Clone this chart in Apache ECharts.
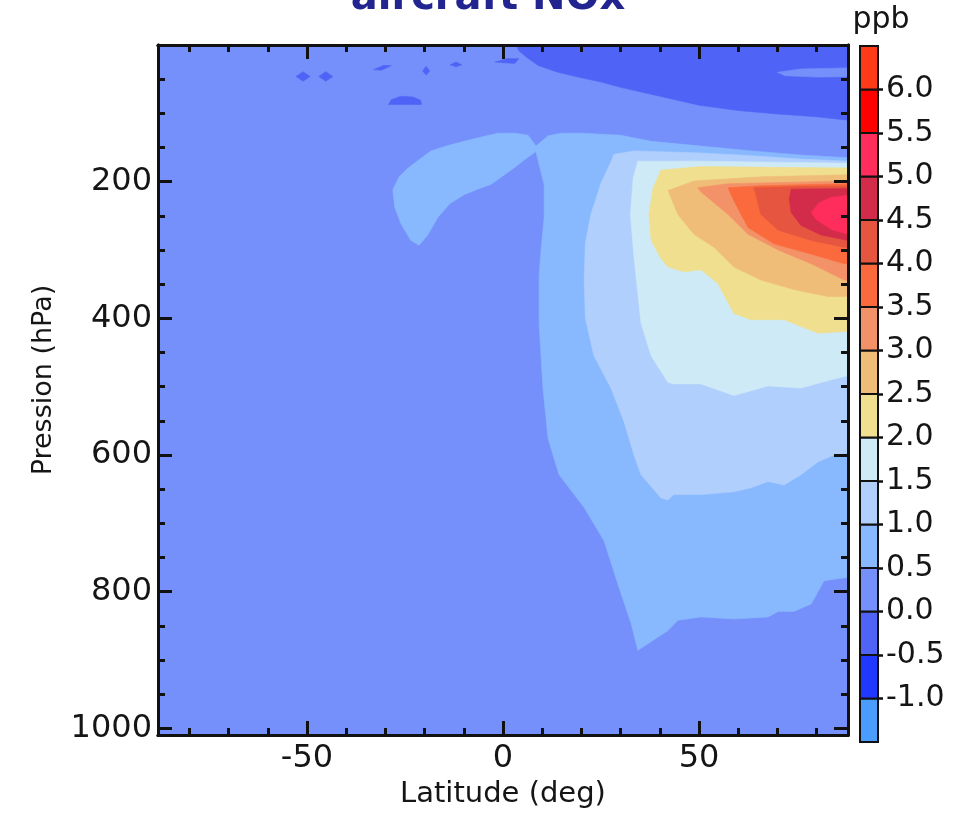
<!DOCTYPE html>
<html><head><meta charset="utf-8">
<script src="https://cdn.jsdelivr.net/npm/echarts@6/dist/echarts.min.js"></script>
<style>html,body{margin:0;padding:0;background:#fff}#c{width:967px;height:814px}</style>
</head><body><div id="c"></div>
<script>
const FONT = 'DejaVu Sans';
// axis ticks
const latMajor = [-50, 0, 50];
const latMinor = [-80, -70, -60, -40, -30, -20, -10, 10, 20, 30, 40, 60, 70, 80];
const presMajor = [200, 400, 600, 800, 1000];
const presMinor = [50, 100, 150, 250, 300, 350, 450, 500, 550, 650, 700, 750, 850, 900, 950];
// colour bar
const cbEdges = [-1.5, -1.0, -0.5, 0.0, 0.5, 1.0, 1.5, 2.0, 2.5, 3.0, 3.5, 4.0, 4.5, 5.0, 5.5, 6.0, 6.5];
const cbTicks = [-1.0, -0.5, 0.0, 0.5, 1.0, 1.5, 2.0, 2.5, 3.0, 3.5, 4.0, 4.5, 5.0, 5.5, 6.0];
const bandColors = ['#4a9cff', '#2038ff', '#4f64f6', '#7590fa', '#88b8fe', '#b0cffd', '#cfeaf7',
  '#efdf8e', '#f0bd78', '#f39268', '#fa6a3c', '#e6553f', '#d32c4a', '#ff2d5c', '#ff0000', '#ff3a18'];

// contour regions: [latitude, pressure] boundary points, drawn in order
const regionBg = [[-92, -10], [92, -10], [92, 1020], [-92, 1020]];
const regionDarkTop = [[3, -5], [92, -5], [92, 110], [88, 110], [80, 105], [70, 101], [60, 96], [50, 88], [40, 75], [30, 62], [25, 54], [20, 48], [14, 40], [9, 30], [6, 18], [4, 8]];
const regionTopLight = [[70, 40], [76, 35], [92, 33], [92, 46], [80, 47], [72, 45]];
const patchA = [[-52.8, 46], [-51, 39], [-49.2, 46], [-51, 53]];
const patchB = [[-47, 46], [-45.2, 39], [-43.4, 46], [-45.2, 53]];
const patchC = [[-29.2, 87], [-28.5, 80], [-26, 75], [-23, 76], [-21, 81], [-20.8, 87]];
const patchD = [[-33, 36], [-30.5, 30], [-28.5, 30], [-31, 37]];
const patchE = [[-20.5, 38], [-19.6, 31], [-18.7, 38], [-19.6, 44]];
const patchF = [[-13.5, 29], [-12, 25], [-10.5, 29], [-12, 32]];
const patchG = [[-2, 25], [1, 20], [4, 20], [3, 27]];
const region05 = [[-28.1, 212], [-26.5, 193], [-24.2, 180], [-21, 166], [-18.4, 155], [-14, 147], [-9.9, 141], [-5, 134], [-1.3, 129], [3, 129], [6.4, 132], [8.4, 148], [11.5, 133], [15, 129], [19.9, 129], [30, 132], [37.8, 141], [50.5, 148], [63.3, 155], [76, 161], [88, 165], [92, 165], [92, 779], [88, 779], [81.9, 784], [78.6, 818], [74.2, 829], [70.2, 829], [67.6, 837], [58.9, 840], [50.5, 837], [44.6, 842], [42.1, 857], [34.4, 886], [32.7, 847], [29.3, 789], [25.8, 726], [20.7, 677], [14.3, 629], [11.5, 576], [10.2, 503], [9.2, 407], [9.2, 339], [9.7, 300], [10.5, 252], [10.5, 205], [8.4, 156], [5.5, 168], [2.8, 180], [-3.1, 204], [-6.5, 211], [-9.9, 219], [-13.5, 232], [-16.6, 252], [-19.2, 278], [-21.4, 293], [-23.5, 286], [-26, 262], [-27.6, 238]];
const region10 = [[27.6, 170], [28.3, 160], [33.4, 155], [50.5, 158], [63.3, 162], [76, 167], [88, 170], [92, 170], [92, 597], [88, 597], [84.4, 600], [80.4, 610], [76, 629], [71.7, 644], [67.6, 639], [63.3, 648], [58.9, 654], [50.5, 658], [43.6, 658], [42.1, 666], [40.3, 663], [35.2, 629], [33.4, 600], [30.9, 552], [27.6, 503], [23.2, 455], [21, 400], [20.7, 344], [21, 290], [22.4, 248], [25, 202]];
const region15 = [[34.4, 170], [50.5, 170], [88, 173], [92, 173], [92, 484], [88, 484], [84.4, 489], [76, 502], [67.6, 499], [58.9, 513], [50.5, 496], [43.6, 496], [42.1, 494], [37.8, 455], [35.2, 407], [33.4, 310], [32.5, 248], [33.2, 195]];
const region20 = [[40.3, 183], [50.5, 178], [88, 180], [92, 180], [92, 419], [88, 419], [80.4, 422], [76, 412], [71.7, 402], [63.3, 402], [58.9, 393], [54.8, 349], [50.5, 329], [46.2, 332], [42.1, 325], [40.3, 313], [37.8, 286], [37.2, 248], [38.3, 209]];
const region25 = [[42.1, 213], [48.7, 199], [65.8, 193], [88, 190], [92, 190], [92, 368], [88, 368], [82.9, 368], [74.2, 358], [65.8, 344], [58.9, 325], [53.8, 296], [48.7, 277], [44.6, 248]];
const region30 = [[49.7, 209], [57.4, 203], [88, 199], [92, 199], [92, 344], [87, 344], [78.6, 320], [70.2, 300], [62.5, 277], [57.4, 248], [50.5, 215]];
const region35 = [[57.4, 209], [65.8, 206], [88, 203], [92, 203], [92, 320], [87, 320], [78.6, 306], [69.1, 291], [62.5, 267], [58.9, 228]];
const region40 = [[64, 209], [76, 207], [92, 206], [92, 296], [87, 296], [78.6, 286], [70.2, 271], [65.8, 248]];
const region45 = [[73.5, 211], [88, 210], [92, 210], [92, 286], [88, 286], [81.1, 278], [76, 264], [73.5, 245], [73, 225]];
const region50 = [[83.7, 223], [88, 220], [92, 220], [92, 277], [88, 277], [83.7, 270], [79.8, 255], [78.6, 245], [80.6, 231]];
// drawing order with the value band each region belongs to (ppb)
const regionList = [
  [regionBg, 0.25], [regionDarkTop, -0.25], [regionTopLight, 0.25],
  [patchA, -0.25], [patchB, -0.25], [patchC, -0.25], [patchD, -0.25], [patchE, -0.25], [patchF, -0.25], [patchG, -0.25],
  [region05, 0.75], [region10, 1.25], [region15, 1.75], [region20, 2.25], [region25, 2.75],
  [region30, 3.25], [region35, 3.75], [region40, 4.25], [region45, 4.75], [region50, 5.25]
];

function colorOf(v) {
  let i = Math.floor((v - cbEdges[0]) / 0.5);
  i = Math.max(0, Math.min(bandColors.length - 1, i));
  return bandColors[i];
}

const series = regionList.map(([pts, lev]) => ({
  type: 'custom', coordinateSystem: 'cartesian2d', xAxisIndex: 0, yAxisIndex: 0,
  clip: true, silent: true, animation: false, z: 1, data: pts, encode: { x: 0, y: 1 },
  renderItem: function (params, api) {
    if (params.dataIndex !== 0) return null;
    const c = colorOf(lev);
    return { type: 'polygon', shape: { points: pts.map(p => api.coord(p)) },
      style: { fill: c, stroke: c, lineWidth: 0.6 } };
  }
}));

series.push({
  type: 'custom', coordinateSystem: 'cartesian2d', xAxisIndex: 4, yAxisIndex: 4,
  silent: true, animation: false, z: 1,
  data: cbEdges.slice(0, -1).map((e, i) => [e, cbEdges[i + 1], i]),
  encode: { x: -1, y: [0, 1] },
  renderItem: function (params, api) {
    const p0 = api.coord([0, api.value(0)]);
    const p1 = api.coord([1, api.value(1)]);
    return { type: 'rect', shape: { x: p0[0], y: p1[1], width: p1[0] - p0[0], height: p0[1] - p1[1] },
      style: { fill: bandColors[api.value(2)], stroke: '#111', lineWidth: 2 } };
  }
});

const black = '#111';
function xAx(pos, vals, len, labels) {
  return {
    type: 'value', gridIndex: 0, min: -88, max: 88, position: pos, z: 10,
    axisLine: { show: true, onZero: false, lineStyle: { color: black, width: 3 } },
    axisTick: { show: true, inside: true, length: len, customValues: vals, lineStyle: { color: black, width: 3 } },
    axisLabel: labels ? { show: true, customValues: vals, formatter: v => String(v), fontFamily: FONT, fontSize: 32, color: '#151515', margin: 8 } : { show: false },
    splitLine: { show: false }
  };
}
function yAx(pos, vals, len, labels) {
  return {
    type: 'value', gridIndex: 0, min: 0, max: 1010, inverse: true, position: pos, z: 10,
    axisLine: { show: true, onZero: false, lineStyle: { color: black, width: 3 } },
    axisTick: { show: true, inside: true, length: len, customValues: vals, lineStyle: { color: black, width: 3 } },
    axisLabel: labels ? { show: true, customValues: vals, formatter: v => String(v), fontFamily: FONT, fontSize: 32, color: '#151515', margin: 6 } : { show: false },
    splitLine: { show: false }
  };
}
const xb = xAx('bottom', latMajor, 14, true);
xb.name = 'Latitude (deg)'; xb.nameLocation = 'middle'; xb.nameGap = 38;
xb.nameTextStyle = { fontFamily: FONT, fontSize: 29, color: '#151515' };
const yl = yAx('left', presMajor, 14, true);
yl.name = 'Pression (hPa)'; yl.nameLocation = 'middle'; yl.nameGap = 101;
yl.nameTextStyle = { fontFamily: FONT, fontSize: 27, color: '#151515', padding: [0, 0, 0, 20] };

const option = {
  backgroundColor: '#ffffff',
  animation: false,
  grid: [
    { left: 158, right: 119, top: 45, bottom: 73 },
    { left: 860, width: 18, top: 46, height: 696 }
  ],
  xAxis: [xb, xAx('bottom', latMinor, 7, false), xAx('top', latMajor, 14, false), xAx('top', latMinor, 7, false),
    { type: 'value', gridIndex: 1, min: 0, max: 1, show: false }],
  yAxis: [yl, yAx('left', presMinor, 7, false), yAx('right', presMajor, 14, false), yAx('right', presMinor, 7, false),
    { type: 'value', gridIndex: 1, min: -1.5, max: 6.5, position: 'right', z: 10,
      axisLine: { show: true, onZero: false, lineStyle: { color: black, width: 2 } },
      axisTick: { show: true, inside: false, length: 5, customValues: cbTicks, lineStyle: { color: black, width: 2.5 } },
      axisLabel: { show: true, customValues: cbTicks, formatter: v => v.toFixed(1), fontFamily: FONT, fontSize: 30, color: '#151515', margin: 8 },
      splitLine: { show: false } }],
  graphic: [
    { type: 'text', silent: true, style: { text: 'aircraft NOx', x: 488, y: 19, align: 'center', verticalAlign: 'bottom',
      fontFamily: FONT, fontWeight: 'bold', fontSize: 40, fill: '#22258f' } },
    { type: 'text', silent: true, style: { text: 'ppb', x: 881, y: 35, align: 'center', verticalAlign: 'bottom',
      fontFamily: FONT, fontSize: 30, fill: '#151515' } }
  ],
  series: series
};
const chart = echarts.init(document.getElementById('c'), null, { renderer: 'canvas' });
chart.setOption(option);
</script></body></html>
